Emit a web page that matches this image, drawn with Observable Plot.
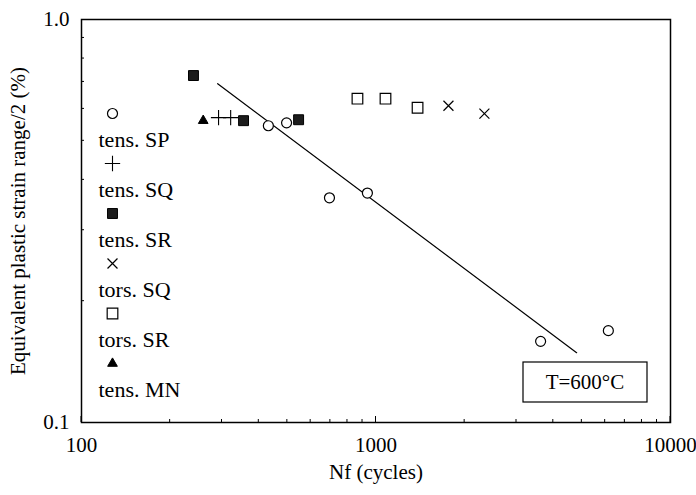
<!DOCTYPE html>
<html><head><meta charset="utf-8">
<script src="https://cdn.jsdelivr.net/npm/d3@7"></script>
<script src="https://cdn.jsdelivr.net/npm/@observablehq/plot@0.6"></script>
<style>body{margin:0;background:#fff}</style>
</head><body><div id="chart"></div>
<script>
// Series (legend order)
const seriesNames = ["tens. SP", "tens. SQ", "tens. SR", "tors. SQ", "tors. SR", "tens. MN"];
const seriesSymbols = ["circle", "plus", "square", "times", "square", "triangle"];
// Data: Nf (cycles) and equivalent plastic strain range/2 (%)
const spN = [431, 497, 695, 935, 3622, 6151];
const spStrain = [0.545, 0.554, 0.361, 0.371, 0.159, 0.169];
const sqN = [292, 321];
const sqStrain = [0.571, 0.571];
const srN = [240, 355, 546];
const srStrain = [0.726, 0.561, 0.564];
const torsSqN = [1762, 2334];
const torsSqStrain = [0.611, 0.584];
const torsSrN = [865, 1077, 1384];
const torsSrStrain = [0.636, 0.636, 0.604];
const mnN = [259];
const mnStrain = [0.561];
// Fitted line end points
const fitN = [290, 4800];
const fitStrain = [0.693, 0.149];
// Ticks
const xTicks = [100, 1000, 10000];
const xTickLabels = ["100", "1000", "10000"];
const yTicks = [0.1, 1.0];
const yTickLabels = ["0.1", "1.0"];
const xMinor = [200, 300, 400, 500, 600, 700, 800, 900, 2000, 3000, 4000, 5000, 6000, 7000, 8000, 9000];
const yMinor = [0.2, 0.3, 0.4, 0.5, 0.6, 0.7, 0.8, 0.9];
const xTitle = "Nf (cycles)";
const yTitle = "Equivalent plastic strain range/2 (%)";
const annotation = "T=600°C";

const pts = (xs, ys) => xs.map((x, i) => ({x, y: ys[i]}));
const seriesData = [pts(spN, spStrain), pts(sqN, sqStrain), pts(srN, srStrain),
                    pts(torsSqN, torsSqStrain), pts(torsSrN, torsSrStrain), pts(mnN, mnStrain)];
const symStyle = [
  {r: 5, fill: "white", stroke: "black", strokeWidth: 1.2},
  {r: 5, fill: "none", stroke: "black", strokeWidth: 1.1},
  {r: 5.6, fill: "#1c1c1c", stroke: "black", strokeWidth: 1},
  {r: 4.6, fill: "none", stroke: "black", strokeWidth: 1.2},
  {r: 6, fill: "white", stroke: "black", strokeWidth: 1.2},
  {r: 3.6, fill: "black", stroke: "black", strokeWidth: 1}
];

const FONT = "'Liberation Serif', 'Times New Roman', serif";

const dataMarks = seriesData.map((d, i) =>
  Plot.dot(d, {x: "x", y: "y", symbol: seriesSymbols[i], ...symStyle[i]}));

const legendMarks = seriesNames.flatMap((name, i) => [
  Plot.dot([name], {frameAnchor: "top-left", dx: 31, dy: 94 + i * 50, symbol: seriesSymbols[i], ...symStyle[i]}),
  Plot.text([name], {text: d => d, frameAnchor: "top-left", dx: 17, dy: 120 + i * 50,
    textAnchor: "start", lineAnchor: "middle", fontSize: 22, fill: "black"})
]);

const ticksMark = (index, scales, values, dims) => {
  const g = d3.create("svg:g").attr("stroke", "black").attr("stroke-width", 1);
  const bottom = dims.height - dims.marginBottom;
  const left = dims.marginLeft;
  for (const v of xMinor) {
    const px = scales.x(v);
    g.append("line").attr("x1", px).attr("x2", px).attr("y1", bottom).attr("y2", bottom - 3);
  }
  for (const v of xTicks) {
    const px = scales.x(v);
    g.append("line").attr("x1", px).attr("x2", px).attr("y1", bottom).attr("y2", bottom - 6);
  }
  for (const v of yMinor) {
    const py = scales.y(v);
    g.append("line").attr("x1", left).attr("x2", left + 3).attr("y1", py).attr("y2", py);
  }
  return g.node();
};

const boxMark = (index, scales, values, dims) => {
  const g = d3.create("svg:g");
  const x2 = dims.width - dims.marginRight - 23, y2 = dims.height - dims.marginBottom - 20;
  const w = 124, h = 40;
  g.append("rect").attr("x", x2 - w).attr("y", y2 - h).attr("width", w).attr("height", h)
    .attr("fill", "white").attr("stroke", "black").attr("stroke-width", 1.2);
  g.append("text").attr("x", x2 - w / 2).attr("y", y2 - h / 2).attr("dy", "0.35em")
    .attr("text-anchor", "middle").attr("font-size", 21).attr("font-family", FONT)
    .attr("fill", "black").text(annotation);
  return g.node();
};

const chart = Plot.plot({
  width: 696,
  height: 495,
  marginLeft: 81,
  marginRight: 26,
  marginTop: 19,
  marginBottom: 73,
  style: {fontFamily: FONT, background: "white", color: "black"},
  x: {type: "log", domain: [100, 10000]},
  y: {type: "log", domain: [0.1, 1]},
  marks: [
    Plot.axisX(xTicks, {tickSize: 0, tickPadding: 15, fontSize: 21, label: null,
      tickFormat: d => xTickLabels[xTicks.indexOf(d)]}),
    Plot.axisY(yTicks, {tickSize: 0, tickPadding: 12, fontSize: 21, label: null,
      tickFormat: d => yTickLabels[yTicks.indexOf(d)]}),
    Plot.text([xTitle], {text: d => d, frameAnchor: "bottom", dy: 56, fontSize: 21, fill: "black"}),
    Plot.text([yTitle], {text: d => d, frameAnchor: "left", dx: -63, rotate: -90,
      textAnchor: "middle", fontSize: 21, fill: "black"}),
    Plot.line(pts(fitN, fitStrain), {x: "x", y: "y", stroke: "black", strokeWidth: 1.2}),
    ...dataMarks,
    ...legendMarks,
    boxMark,
    ticksMark,
    Plot.frame({stroke: "black", strokeWidth: 1.5})
  ]
});
document.getElementById("chart").appendChild(chart);
</script>
</body></html>
